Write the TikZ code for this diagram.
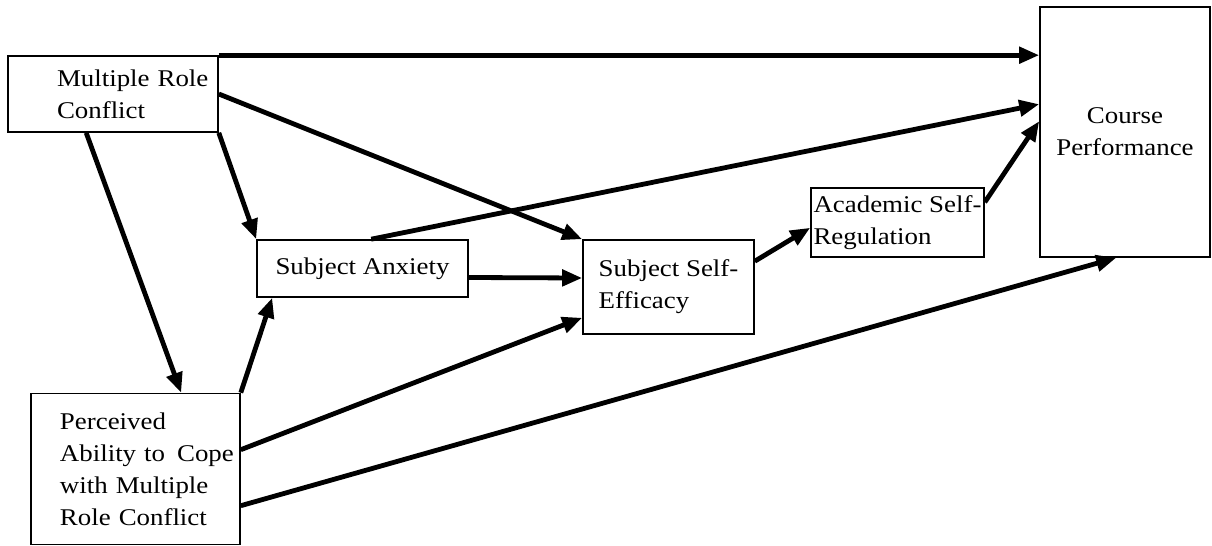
\documentclass[tikz,border=0pt]{standalone}
\usepackage{fontspec}
\setmainfont{Liberation Serif}[FakeStretch=1.12]
\usetikzlibrary{calc,arrows.meta}
\begin{document}
\begin{tikzpicture}[x=0.5pt,y=-0.5pt,
    box/.style = {draw, line width=0.8pt, inner sep=0pt, align=left, font=\fontsize{12}{16}\selectfont},
    path/.style = {line width=2.4pt, -{Triangle[length=10pt,width=8pt]}}]
        \useasboundingbox (0,0) rectangle (1212,546);
        \node[box, minimum width=105pt, minimum height=38pt, inner xsep=24.5pt, text width=56pt] (mrc) at (113,94) {Multiple~Role\\Conflict};
        \node[box, minimum width=85pt, minimum height=125pt, align=center] (cp) at (1125,132) {Course\\Performance};
        \node[box, minimum width=105.5pt, minimum height=28.5pt] (sa) at (362.5,268.5) {Subject Anxiety};
        \node[box, minimum width=85.5pt, minimum height=47pt] (se) at (668.5,287) {Subject Self-\\Efficacy};
        \node[box, minimum width=86.5pt, minimum height=34.5pt] (asr) at (897.5,222.5) {Academic Self-\\Regulation};
        \node[box, minimum width=104.5pt, minimum height=75.5pt, inner xsep=14.5pt, text width=75.5pt] (pa) at (135.5,469) {Perceived\\Ability~to~\,Cope\\with~Multiple\\Role~Conflict};
        \draw[path] (mrc.north east) -- (mrc.north east -| cp.west);
        \draw[path] (mrc.east) -- (se.north west);
        \draw[path] (mrc.south east) -- (sa.north west);
        \draw[path] ($(mrc.south west)+(79,0)$) -- ($(pa.north west)+(151,0)$);
        \draw[path] (pa.north east) -- ($(sa.south west)+(16,0)$);
        \draw[path] ($(pa.north east)+(0,57)$) -- ($(se.south west)+(0,-17)$);
        \draw[path] ($(pa.north east)+(0,113)$) -- ($(cp.south west)+(77,0)$);
        \draw[path] ($(sa.north west)+(115,0)$) -- ($(cp.north west)+(0,98)$);
        \draw[path] ($(sa.east)+(0,9)$) -- ($(se.west)+(0,-9)$);
        \draw[path] ($(se.north east)+(0,22)$) -- ($(asr.south west)+(0,-30)$);
        \draw[path] ($(asr.north east)+(0,15)$) -- ($(cp.north west)+(0,115)$);
        %\draw[path] (sa) -- (asr);
\end{tikzpicture}
\end{document}
